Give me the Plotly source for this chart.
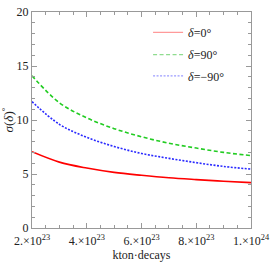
import plotly.graph_objects as go

exposure = [2e23, 3e23, 4e23, 5e23, 6e23, 7e23, 8e23, 9e23, 1e24]
sigma_d0 = [7.06, 6.10, 5.55, 5.15, 4.88, 4.65, 4.48, 4.33, 4.20]
sigma_d90 = [14.1, 11.6, 10.2, 9.2, 8.45, 7.85, 7.40, 7.00, 6.70]
sigma_dm90 = [11.7, 9.6, 8.4, 7.55, 6.90, 6.45, 6.05, 5.70, 5.45]

series_names = ["<i>δ</i>=0°", "<i>δ</i>=90°", "<i>δ</i>=−90°"]
series_colors = ["#ff0000", "#22cc22", "#2a2aff"]
legend_colors = ["#ff9a9a", "#8fdc8f", "#9a9aff"]
series_dash = ["solid", "4px,2.5px", "2px,1.5px"]

x_tickvals = [2e23, 4e23, 6e23, 8e23, 1e24]
x_ticktext = ["2.×10<sup>23</sup>", "4.×10<sup>23</sup>", "6.×10<sup>23</sup>",
              "8.×10<sup>23</sup>", "1.×10<sup>24</sup>"]
y_tickvals = [0, 5, 10, 15, 20]

fig = go.Figure()
legend_ids = ["legend", "legend2", "legend3"]
for yv, nm, col, lcol, dsh, lg in zip([sigma_d0, sigma_d90, sigma_dm90], series_names,
                                      series_colors, legend_colors, series_dash, legend_ids):
    fig.add_trace(go.Scatter(x=exposure, y=yv, mode="lines", line_shape="spline",
                             line=dict(color=col, width=1.6, dash=dsh), showlegend=False,
                             hoverinfo="skip"))
    # legend entry (lighter sample line, as in the reference)
    fig.add_trace(go.Scatter(x=[None], y=[None], mode="lines", name=nm, legend=lg,
                             line=dict(color=lcol, width=1.3, dash=dsh)))

axis_common = dict(showgrid=False, zeroline=False, showline=True, linecolor="#999999",
                   linewidth=1, mirror="ticks", ticks="inside", tickcolor="#999999",
                   ticklen=5, ticklabeloverflow="allow",
                   tickfont=dict(family="Liberation Serif", size=12, color="#222"))

fig.update_xaxes(range=[2e23, 1e24], tickvals=x_tickvals, ticktext=x_ticktext,
                 ticklabelstandoff=2,
                 minor=dict(dtick=0.5e23, tick0=0, ticks="inside", ticklen=3, tickcolor="#999999"),
                 title=dict(text="kton·decays", font=dict(family="Liberation Serif", size=12, color="#222"),
                            standoff=2),
                 **axis_common)
fig.update_yaxes(range=[0, 20], tickvals=y_tickvals,
                 minor=dict(dtick=1, ticks="inside", ticklen=3, tickcolor="#999999"),
                 title=dict(text="<i>σ</i>(<i>δ</i>)<sup>°</sup>",
                            font=dict(family="Liberation Serif", size=13, color="#222"), standoff=2),
                 **axis_common)

leg_common = dict(xanchor="left", yanchor="middle", bgcolor="rgba(0,0,0,0)",
                  font=dict(family="Liberation Serif", size=12, color="#222"))
fig.update_layout(width=275, height=264, margin=dict(l=30, r=21, t=5, b=36),
                  plot_bgcolor="white", paper_bgcolor="white",
                  legend=dict(x=0.53, y=0.906, **leg_common),
                  legend2=dict(x=0.53, y=0.803, **leg_common),
                  legend3=dict(x=0.53, y=0.704, **leg_common),
                  font=dict(family="Liberation Serif"))

fig.write_html("out.html", config={"displayModeBar": False},
               post_script="document.body.style.margin='0';document.body.style.overflow='hidden';")
